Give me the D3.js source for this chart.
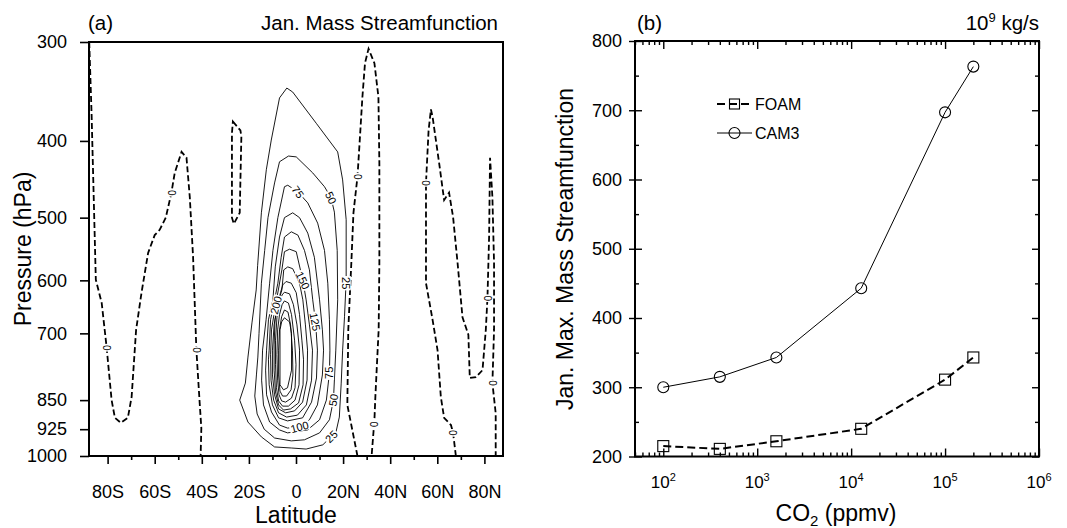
<!DOCTYPE html>
<html>
<head>
<meta charset="utf-8">
<script src="https://cdn.jsdelivr.net/npm/d3@7"></script>
<style>
body { margin: 0; background: #fff; }
svg { font-family: "Liberation Sans", Arial, Helvetica, sans-serif; }
</style>
</head>
<body>
<div class="chart-container"></div>
<script>
// ---------- panel (a): January mass streamfunction, [lat, hPa] points
const pressureTicks = [300, 400, 500, 600, 700, 850, 925, 1000];
const latTicks = [-80, -60, -40, -20, 0, 20, 40, 60, 80];
const latTickLabels = ["80S", "60S", "40S", "20S", "0", "20N", "40N", "60N", "80N"];
const latMinorTicks = [-70, -50, -30, -10, 10, 30, 50, 70];

const contour25 = [[-3.9,343],[-1.4,347],[8.6,380],[17.7,413],[19.8,448],[21.3,503],[21.3,600],[20.6,667],[19.8,735],[19.2,809],[18.4,893],[17.0,932],[11.4,968],[4.3,980],[-2.0,977],[-9.1,974],[-14.7,946],[-20.4,906],[-23.9,850],[-21.5,809],[-20.4,750],[-18.7,679],[-16.9,617],[-16.3,575],[-14.7,493],[-12.6,435],[-10.5,399],[-7.0,353]];
const contour50 = [[-3.2,418],[0.1,419],[7.1,439],[12.1,457],[14.9,472],[16.3,492],[17.5,550],[17.7,635],[16.9,735],[15.9,850],[14.2,900],[10.0,935],[3.6,954],[-2.0,957],[-9.1,949],[-13.5,925],[-16.5,885],[-17.5,840],[-16.8,790],[-16.2,750],[-15.7,700],[-14.7,605],[-13.3,550],[-11.9,500],[-9.1,452],[-7.0,425]];
const contour75 = [[-3.5,455],[0.8,464],[5.0,479],[9.2,508],[12.1,550],[13.5,605],[14.2,673],[14.4,735],[14.2,785],[12.9,850],[10.0,900],[4.9,927],[-3.6,935],[-7.0,927],[-11.2,906],[-13.8,862],[-14.6,802],[-14.2,735],[-12.7,673],[-11.2,605],[-9.8,550],[-7.7,500],[-4.9,457]];
const contour100 = [[-1.4,493],[1.5,500],[5.0,523],[7.8,561],[10.0,635],[11.2,693],[11.7,735],[11.2,790],[9.1,862],[5.7,900],[1.5,919],[-3.6,922],[-7.0,914],[-10.4,880],[-12.5,837],[-12.9,779],[-12.5,735],[-11.7,673],[-9.8,635],[-8.8,577],[-7.0,529],[-4.9,500]];
const contour125 = [[-2.0,521],[0.8,526],[3.6,550],[5.7,582],[7.1,635],[8.3,677],[9.1,735],[8.7,797],[6.6,855],[2.8,895],[-3.6,903],[-7.4,895],[-10.0,862],[-11.4,813],[-11.7,756],[-11.4,735],[-10.8,673],[-9.1,635],[-7.7,605],[-6.3,561],[-4.9,529]];
const contour150 = [[-2.75,548],[0.1,552],[2.9,600],[4.3,635],[5.7,683],[7.0,735],[6.6,802],[4.4,862],[0.6,888],[-4.0,893],[-7.4,882],[-9.5,850],[-10.6,802],[-10.8,745],[-10.4,693],[-8.9,650],[-7.2,610],[-6.0,582],[-4.9,552]];
const contour175 = [[-3.5,577],[-1.4,580],[1.5,605],[2.9,635],[4.0,683],[4.9,735],[4.7,802],[2.8,855],[-0.6,877],[-4.4,882],[-7.4,872],[-9.1,837],[-10.0,790],[-10.0,735],[-9.3,683],[-7.8,644],[-6.0,617],[-5.2,582]];
const contour200 = [[-4.2,602],[-2.0,605],[0.1,622],[1.5,663],[2.5,714],[3.2,756],[3.0,813],[1.1,857],[-2.3,872],[-5.3,875],[-7.4,862],[-8.7,830],[-9.3,779],[-9.3,724],[-8.9,673],[-7.8,644],[-6.6,622],[-5.6,608]];
const contour225 = [[-4.9,621],[-2.75,624],[-1.1,644],[0.4,683],[1.5,735],[1.3,813],[-0.4,850],[-3.2,865],[-5.7,865],[-7.4,852],[-8.3,820],[-8.7,767],[-8.7,714],[-8.1,669],[-7.0,641],[-5.9,626]];
const contour250 = [[-4.9,637],[-3.2,641],[-1.9,663],[-0.6,714],[0.0,767],[-0.4,820],[-1.9,845],[-4.4,855],[-6.1,852],[-7.2,837],[-7.8,802],[-8.1,745],[-7.8,693],[-7.0,663],[-5.9,644]];
const contour275 = [[-4.9,654],[-3.4,658],[-2.3,683],[-1.5,735],[-1.3,790],[-2.1,825],[-4.0,840],[-5.7,840],[-6.8,828],[-7.4,790],[-7.4,735],[-7.0,693],[-6.1,667]];
const contour300 = [[-4.9,669],[-2.75,677],[-1.9,700],[-1.9,779],[-3.6,820],[-5.3,825],[-6.8,813],[-6.8,693],[-6.1,677]];

// zero lines (dashed)
const zeroSouth = [[-87.8,300],[-86.8,370],[-85.0,599],[-82.5,641],[-80.4,730],[-78.3,850],[-76.9,895],[-74.4,908],[-71.4,895],[-69.8,842],[-67.9,693],[-65.6,622],[-62.8,554],[-60.0,526],[-57.9,518],[-55.3,500],[-52.9,465],[-51.5,439],[-48.6,413],[-46.5,420],[-45.1,471],[-43.7,561],[-42.3,735],[-40.9,857],[-40.2,922],[-40.5,1000]];
const zeroLoop = [[-26.8,378],[-23.6,388],[-23.2,395],[-23.9,493],[-26.4,509],[-27.2,500],[-27.2,391]];
const zeroSubtropic = [[26.1,1000],[21.8,862],[22.2,693],[23.5,570],[24.4,493],[26.1,444],[26.9,407],[28.2,352],[29.3,319],[30.8,306],[33.3,319],[35.0,352],[35.4,427],[35.4,570],[35.1,693],[34.4,763],[33.7,842],[33.3,901],[32.1,1000]];
const zeroNorth = [[67.9,1000],[66.7,935],[65.8,914],[62.9,895],[61.5,842],[60.1,735],[58.0,673],[55.2,605],[55.2,518],[55.2,452],[56.3,388],[57.3,365],[58.0,373],[60.8,427],[62.9,475],[65.0,465],[66.7,499],[68.6,570],[70.7,668],[73.2,703],[73.8,797],[76.4,795],[79.2,779],[80.6,693],[81.3,632],[82.0,529],[82.4,420],[83.4,471],[84.1,570],[84.1,693],[83.4,809],[84.8,883],[84.8,1000]];

// contour labels: [lat, hPa, text]
const contourLabels = [[0.8,464,"75"],[14.8,472,"50"],[21.3,605,"25"],[2.9,600,"150"],[8.1,677,"125"],[-8.5,645,"200"],[14.2,785,"75"],[15.9,850,"50"],[15.0,945,"25"],[1.5,919,"100"]];
const contourLabelAngles = [55, 65, 90, 65, 80, -75, -90, -80, -45, -15];
const zeroLabels = [[-80.4,730],[-52.9,465],[-42.3,735],[26.1,444],[32.9,912],[55.2,452],[66.7,935],[81.3,632],[83.4,809]];

// ---------- panel (b): Jan. max. mass streamfunction vs CO2
const co2 = [100, 400, 1600, 12800, 100000, 200000];
const foam = [215, 211, 222, 240, 311, 343];
const cam3 = [300, 315, 343, 443, 697, 763];
const co2MajorTicks = [1e2, 1e3, 1e4, 1e5, 1e6];
const co2Exponents = ["2", "3", "4", "5", "6"];
const streamTicks = [200, 300, 400, 500, 600, 700, 800];
const streamMinorTicks = [250, 350, 450, 550, 650, 750];

const width = 1067, height = 528;
const svg = d3.select(".chart-container").append("svg")
    .attr("width", width)
    .attr("height", height);

// ================= panel (a)
const ax = d3.scaleLinear().domain([-87.9, 87.9]).range([89, 503]);
const ay = d3.scaleLog().domain([300, 1000]).range([42, 456]);

svg.append("clipPath").attr("id", "clipA")
    .append("rect").attr("x", 89).attr("y", 42).attr("width", 414).attr("height", 414);

const plotA = svg.append("g").attr("clip-path", "url(#clipA)");
const openLine = d3.line().x(d => ax(d[0])).y(d => ay(d[1]));
const closedLine = d3.line().x(d => ax(d[0])).y(d => ay(d[1])).curve(d3.curveLinearClosed);

[contour25, contour50, contour75, contour100, contour125, contour150, contour175,
 contour200, contour225, contour250, contour275, contour300].forEach(c => {
    plotA.append("path").attr("d", closedLine(c))
        .attr("fill", "none").attr("stroke", "#000").attr("stroke-width", 0.9);
});

[zeroSouth, zeroSubtropic, zeroNorth].forEach(c => {
    plotA.append("path").attr("d", openLine(c))
        .attr("fill", "none").attr("stroke", "#000").attr("stroke-width", 1.8)
        .attr("stroke-dasharray", "6,3");
});
plotA.append("path").attr("d", closedLine(zeroLoop))
    .attr("fill", "none").attr("stroke", "#000").attr("stroke-width", 1.8)
    .attr("stroke-dasharray", "6,3");

const addLabel = (x, y, text, angle, size) => {
    const g = plotA.append("g").attr("transform", "translate(" + x + "," + y + ") rotate(" + angle + ")");
    const w = text.length * size * 0.56 + 2;
    const h = size * 0.85;
    g.append("rect").attr("x", -w / 2).attr("y", -h / 2).attr("width", w).attr("height", h).attr("fill", "#fff");
    g.append("text").attr("text-anchor", "middle").attr("dy", "0.36em")
        .attr("font-size", size).text(text);
};
contourLabels.forEach((d, i) => addLabel(ax(d[0]), ay(d[1]), d[2], contourLabelAngles[i], 11));
zeroLabels.forEach(d => addLabel(ax(d[0]), ay(d[1]), "0", 90, 10));

// axes (a)
const yAxisA = svg.append("g").attr("transform", "translate(89,0)")
    .call(d3.axisLeft(ay).tickValues(pressureTicks).tickFormat(d3.format("d")).tickSize(9).tickPadding(13));
const xAxisA = svg.append("g").attr("transform", "translate(0,456)")
    .call(d3.axisBottom(ax).tickValues(latTicks).tickFormat((d, i) => latTickLabels[i]).tickSize(8).tickPadding(21));
const xMinorA = svg.append("g").attr("transform", "translate(0,456)")
    .call(d3.axisBottom(ax).tickValues(latMinorTicks).tickFormat("").tickSize(4));
[yAxisA, xAxisA, xMinorA].forEach(g => {
    g.select(".domain").remove();
    g.selectAll("line").attr("stroke-width", 1.6);
    g.selectAll("text").attr("font-size", 18).attr("font-family", "Liberation Sans, Arial, sans-serif").attr("fill", "#000");
});
svg.append("rect").attr("x", 89).attr("y", 42).attr("width", 414).attr("height", 414)
    .attr("fill", "none").attr("stroke", "#000").attr("stroke-width", 2);

svg.append("text").attr("x", 88).attr("y", 30).attr("font-size", 20.5).text("(a)");
svg.append("text").attr("x", 498).attr("y", 30).attr("text-anchor", "end").attr("font-size", 20.5).text("Jan. Mass Streamfunction");
svg.append("text").attr("x", 296).attr("y", 523).attr("text-anchor", "middle").attr("font-size", 23).text("Latitude");
svg.append("text").attr("transform", "translate(31,249) rotate(-90)").attr("text-anchor", "middle").attr("font-size", 23).text("Pressure (hPa)");

// ================= panel (b)
const bx = d3.scaleLog().domain([50, 1e6]).range([635, 1039]);
const by = d3.scaleLinear().domain([200, 800]).range([456.5, 41]);
const minorX = bx.ticks().filter(v => co2MajorTicks.indexOf(v) < 0);

const axesB = [
    svg.append("g").attr("transform", "translate(0,456.5)").call(d3.axisBottom(bx).tickValues(co2MajorTicks).tickFormat("").tickSize(-8)),
    svg.append("g").attr("transform", "translate(0,456.5)").call(d3.axisBottom(bx).tickValues(minorX).tickFormat("").tickSize(-4)),
    svg.append("g").attr("transform", "translate(0,41)").call(d3.axisTop(bx).tickValues(co2MajorTicks).tickFormat("").tickSize(-8)),
    svg.append("g").attr("transform", "translate(0,41)").call(d3.axisTop(bx).tickValues(minorX).tickFormat("").tickSize(-4)),
    svg.append("g").attr("transform", "translate(635,0)").call(d3.axisLeft(by).tickValues(streamTicks).tickFormat(d3.format("d")).tickSize(6).tickPadding(7)),
    svg.append("g").attr("transform", "translate(635,0)").call(d3.axisLeft(by).tickValues(streamTicks).tickFormat("").tickSize(-7)),
    svg.append("g").attr("transform", "translate(635,0)").call(d3.axisLeft(by).tickValues(streamMinorTicks).tickFormat("").tickSize(-4)),
    svg.append("g").attr("transform", "translate(1039,0)").call(d3.axisRight(by).tickValues(streamTicks).tickFormat("").tickSize(-7)),
    svg.append("g").attr("transform", "translate(1039,0)").call(d3.axisRight(by).tickValues(streamMinorTicks).tickFormat("").tickSize(-4))
];
axesB.forEach(g => {
    g.select(".domain").remove();
    g.selectAll("line").attr("stroke-width", 1.4);
    g.selectAll("text").attr("font-size", 18).attr("font-family", "Liberation Sans, Arial, sans-serif").attr("fill", "#000");
});

co2MajorTicks.forEach((v, i) => {
    const t = svg.append("text").attr("x", bx(v)).attr("y", 488).attr("text-anchor", "middle").attr("font-size", 17);
    t.append("tspan").text("10");
    t.append("tspan").attr("dy", -7).attr("font-size", 11).text(co2Exponents[i]);
});

const lineB = d3.line().x((d, i) => bx(co2[i])).y(d => by(d));
svg.append("path").attr("d", lineB(cam3)).attr("fill", "none").attr("stroke", "#000").attr("stroke-width", 1);
svg.append("path").attr("d", lineB(foam)).attr("fill", "none").attr("stroke", "#000").attr("stroke-width", 2)
    .attr("stroke-dasharray", "8,4");

svg.selectAll("circle.cam3").data(cam3).enter().append("circle")
    .attr("class", "cam3")
    .attr("cx", (d, i) => bx(co2[i])).attr("cy", d => by(d)).attr("r", 5.5)
    .attr("fill", "none").attr("stroke", "#000").attr("stroke-width", 1.1);
svg.selectAll("rect.foam").data(foam).enter().append("rect")
    .attr("class", "foam")
    .attr("x", (d, i) => bx(co2[i]) - 5.5).attr("y", d => by(d) - 5.5).attr("width", 11).attr("height", 11)
    .attr("fill", "none").attr("stroke", "#000").attr("stroke-width", 1.1);

svg.append("rect").attr("x", 635).attr("y", 41).attr("width", 404).attr("height", 415.5)
    .attr("fill", "none").attr("stroke", "#000").attr("stroke-width", 2);

// legend
svg.append("line").attr("x1", 717).attr("x2", 752).attr("y1", 104).attr("y2", 104)
    .attr("stroke", "#000").attr("stroke-width", 2).attr("stroke-dasharray", "8,4");
svg.append("rect").attr("x", 729.5).attr("y", 99).attr("width", 10).attr("height", 10)
    .attr("fill", "none").attr("stroke", "#000").attr("stroke-width", 1.1);
svg.append("text").attr("x", 755).attr("y", 110).attr("font-size", 16).text("FOAM");
svg.append("line").attr("x1", 717).attr("x2", 752).attr("y1", 133).attr("y2", 133)
    .attr("stroke", "#000").attr("stroke-width", 1);
svg.append("circle").attr("cx", 734.5).attr("cy", 133).attr("r", 5.5)
    .attr("fill", "none").attr("stroke", "#000").attr("stroke-width", 1.1);
svg.append("text").attr("x", 755).attr("y", 139).attr("font-size", 16).text("CAM3");

svg.append("text").attr("x", 637).attr("y", 30).attr("font-size", 20.5).text("(b)");
const unit = svg.append("text").attr("x", 1039).attr("y", 30).attr("text-anchor", "end").attr("font-size", 20.5);
unit.append("tspan").text("10");
unit.append("tspan").attr("dy", -8).attr("font-size", 13).text("9");
unit.append("tspan").attr("dy", 8).text(" kg/s");

const co2Title = svg.append("text").attr("x", 836).attr("y", 521).attr("text-anchor", "middle").attr("font-size", 23);
co2Title.append("tspan").text("CO");
co2Title.append("tspan").attr("dy", 5).attr("font-size", 15).text("2");
co2Title.append("tspan").attr("dy", -5).text(" (ppmv)");
svg.append("text").attr("transform", "translate(573,249) rotate(-90)").attr("text-anchor", "middle")
    .attr("font-size", 23).text("Jan. Max. Mass Streamfunction");
</script>
</body>
</html>
